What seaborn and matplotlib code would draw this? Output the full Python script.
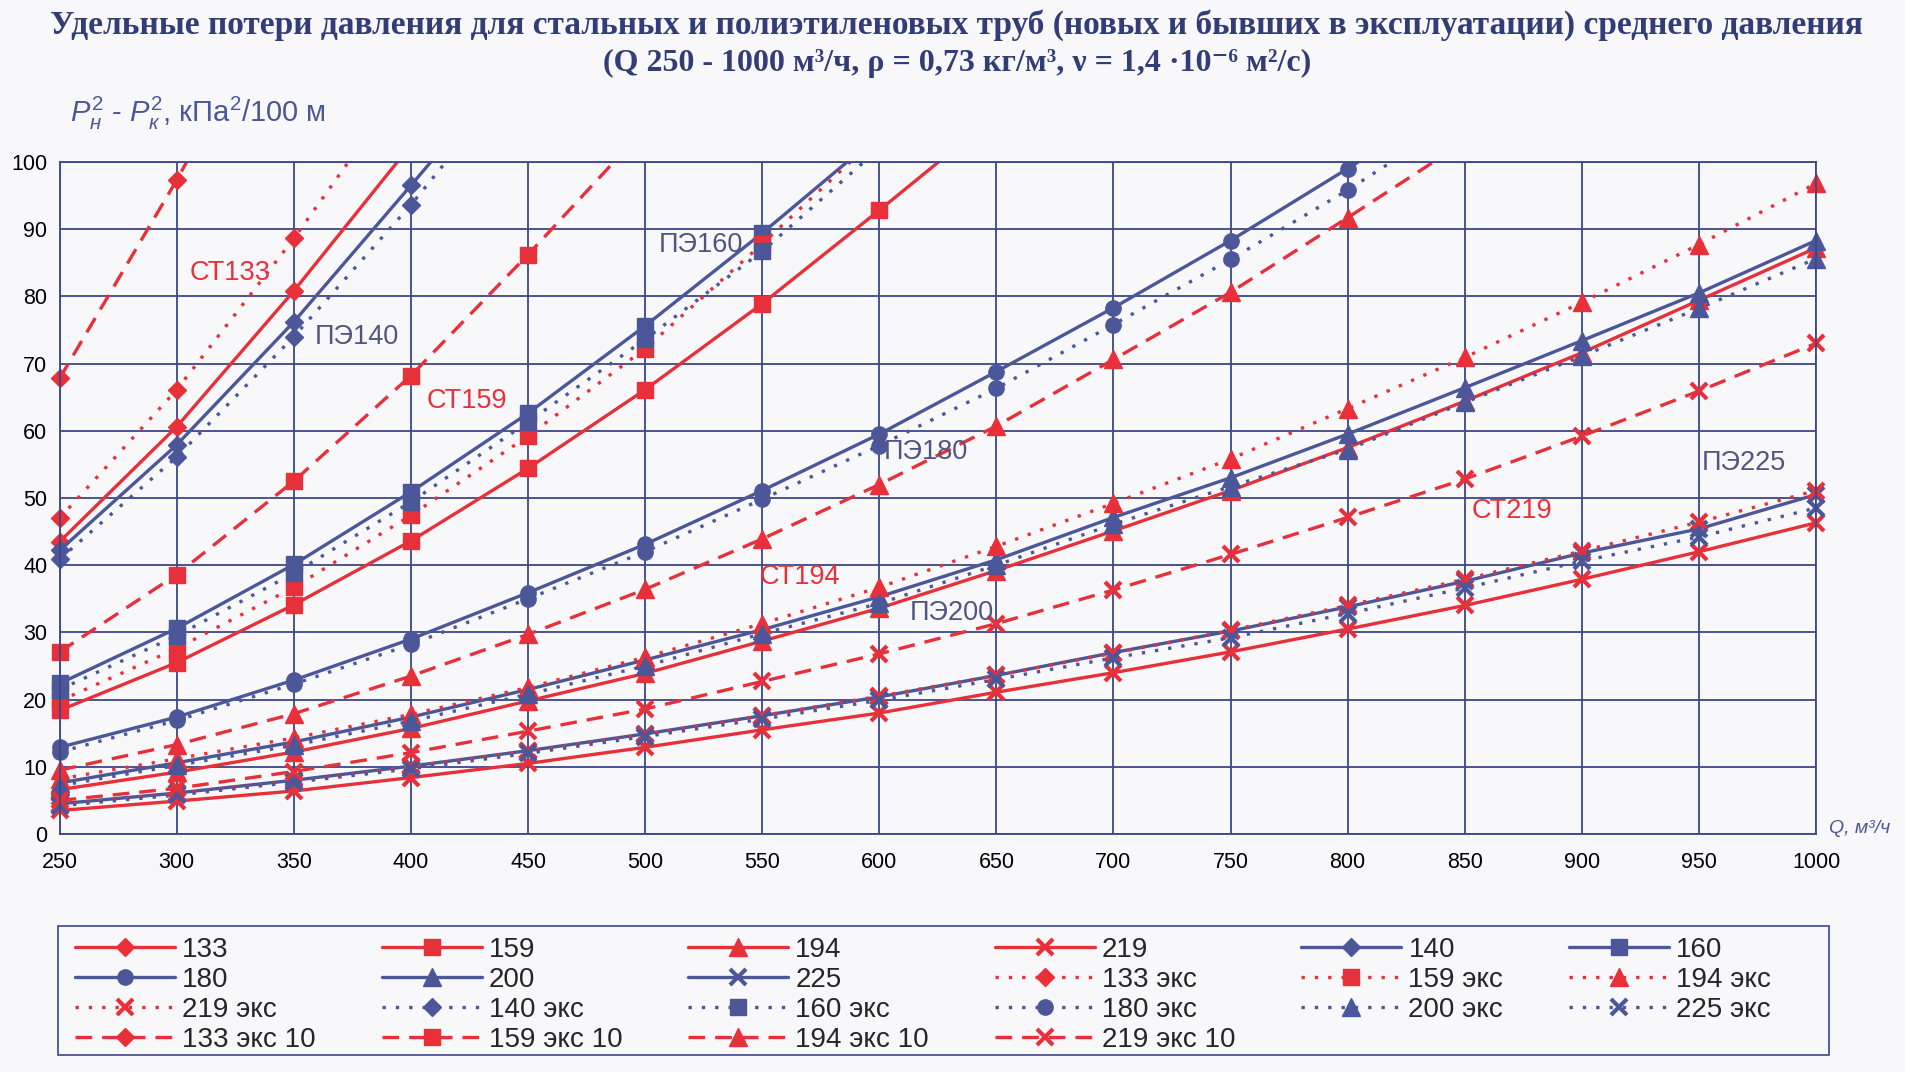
import matplotlib
matplotlib.use("Agg")
import matplotlib.pyplot as plt
from matplotlib.lines import Line2D
from matplotlib.patches import Rectangle
from matplotlib.transforms import Bbox, TransformedBbox
import seaborn as sns

# расход газа, м3/ч
Q = [250, 300, 350, 400, 450, 500, 550, 600, 650, 700, 750, 800, 850, 900, 950, 1000]

# сталь, новые
st133 = [43.5, 60.6, 80.8, 102.5]
st159 = [18.4, 25.5, 34.1, 43.6, 54.4, 66.1, 78.9, 92.8, 107]
st194 = [6.6, 9.2, 12.2, 15.7, 19.8, 23.9, 28.7, 33.6, 39.2, 45.1, 51.1, 57.5, 64.4, 71.6, 79.4, 87.2]
st219 = [3.5, 4.9, 6.4, 8.4, 10.5, 12.9, 15.5, 18.0, 21.1, 24.0, 27.1, 30.5, 34.0, 37.9, 42.0, 46.3]
# полиэтилен, новые
pe140 = [42.2, 57.9, 76.2, 96.5, 117]
pe160 = [22.4, 30.6, 40.1, 50.9, 62.6, 75.6, 89.4, 104]
pe180 = [12.9, 17.4, 22.9, 29.0, 35.9, 43.1, 51.1, 59.5, 68.8, 78.3, 88.3, 99.0, 110]
pe200 = [7.6, 10.6, 13.7, 17.4, 21.5, 25.9, 30.4, 35.3, 40.8, 47.1, 53.0, 59.5, 66.4, 73.4, 80.5, 88.3]
pe225 = [4.5, 6.1, 8.0, 10.1, 12.4, 14.9, 17.6, 20.4, 23.6, 27.0, 30.2, 33.8, 37.6, 41.8, 45.4, 50.5]
# сталь, экс
sx133 = [47.0, 66.1, 88.6, 113]
sx159 = [19.8, 27.6, 36.7, 47.4, 59.2, 72.2, 87.8, 104]
sx194 = [8.2, 11.2, 14.3, 17.8, 21.8, 26.3, 31.3, 36.7, 42.8, 49.2, 55.8, 63.3, 70.9, 79.1, 87.7, 96.8]
sx219 = [4.3, 6.0, 7.8, 10.0, 12.3, 14.8, 17.6, 20.5, 23.6, 26.9, 30.3, 34.0, 37.9, 42.1, 46.4, 51.1]
# полиэтилен, экс
px140 = [40.9, 56.1, 74.0, 93.6, 115]
px160 = [21.5, 29.5, 38.8, 49.4, 61.3, 73.6, 86.7, 102]
px180 = [12.2, 16.9, 22.3, 28.2, 35.0, 42.0, 49.8, 57.8, 66.3, 75.8, 85.5, 95.8, 107]
px200 = [7.2, 10.2, 13.2, 16.8, 20.8, 25.0, 29.8, 34.3, 40.0, 46.1, 51.7, 57.2, 64.2, 71.1, 78.2, 85.6]
px225 = [4.2, 5.8, 7.7, 9.7, 12.0, 14.5, 17.1, 19.9, 23.0, 26.2, 29.2, 32.8, 36.6, 40.6, 44.2, 48.5]
# сталь, экс 10
s10_133 = [67.8, 97.3, 129]
s10_159 = [27.1, 38.6, 52.5, 68.2, 86.2, 105]
s10_194 = [9.5, 13.3, 17.9, 23.5, 29.7, 36.4, 43.9, 52.0, 60.7, 70.6, 80.6, 91.7, 103]
s10_219 = [5.0, 6.8, 9.3, 12.1, 15.3, 18.6, 22.7, 26.8, 31.3, 36.3, 41.6, 47.1, 52.8, 59.2, 65.9, 73.0]

ann_text = ["СТ133", "ПЭ140", "СТ159", "ПЭ160", "ПЭ180", "СТ194", "ПЭ200", "ПЭ225", "СТ219"]
ann_x = [323, 377, 424, 524, 620, 566, 631, 969, 870]
ann_y = [83.4, 74.0, 64.4, 87.7, 56.8, 38.2, 32.9, 55.2, 48.1]

RED = "#e8303a"
BLUE = "#4b5799"
NAVY = "#3b4788"
LBL = "#50567f"
TITLE = "#323d78"
BG = "#f8f8fa"

SOLID = "-"
DOT = (0, (1, 3))
DASH = (0, (5, 3))

series = [
    ("133", st133, RED, "D", SOLID), ("159", st159, RED, "s", SOLID),
    ("194", st194, RED, "^", SOLID), ("219", st219, RED, "x", SOLID),
    ("140", pe140, BLUE, "D", SOLID), ("160", pe160, BLUE, "s", SOLID),
    ("180", pe180, BLUE, "o", SOLID), ("200", pe200, BLUE, "^", SOLID),
    ("225", pe225, BLUE, "x", SOLID),
    ("133 экс", sx133, RED, "D", DOT), ("159 экс", sx159, RED, "s", DOT),
    ("194 экс", sx194, RED, "^", DOT), ("219 экс", sx219, RED, "x", DOT),
    ("140 экс", px140, BLUE, "D", DOT), ("160 экс", px160, BLUE, "s", DOT),
    ("180 экс", px180, BLUE, "o", DOT), ("200 экс", px200, BLUE, "^", DOT),
    ("225 экс", px225, BLUE, "x", DOT),
    ("133 экс 10", s10_133, RED, "D", DASH), ("159 экс 10", s10_159, RED, "s", DASH),
    ("194 экс 10", s10_194, RED, "^", DASH), ("219 экс 10", s10_219, RED, "x", DASH),
]
msize = {"D": 9.5, "s": 11, "o": 11, "^": 12.5, "x": 11}

sns.set_theme(style="white")
plt.rcParams["font.family"] = ["Liberation Sans", "DejaVu Sans"]
plt.rcParams["mathtext.fontset"] = "custom"
plt.rcParams["mathtext.rm"] = "Liberation Sans"
plt.rcParams["mathtext.it"] = "Liberation Sans:italic"

fig = plt.figure(figsize=(19.06, 10.72), dpi=100, facecolor=BG)
ax = fig.add_axes([0.0313, 0.222, 0.9215, 0.627])
ax.set_facecolor(BG)

for name, vals, col, mk, ls in series:
    sns.lineplot(x=Q[:len(vals)], y=vals, ax=ax, color=col, marker=mk, linestyle=ls,
                 linewidth=2.4, markersize=msize[mk], markeredgecolor=col,
                 markerfacecolor=col, markeredgewidth=3 if mk == "x" else 1,
                 label=name, legend=False, errorbar=None)

# линии обрезаем по 100, маркеры на краях по Q не обрезаем
clip = TransformedBbox(Bbox([[230, -5], [1020, 100]]), ax.transData)
for ln in ax.lines:
    ln.set_clip_box(clip)

ax.set_xlim(250, 1000)
ax.set_ylim(0, 100)
ax.set_xticks(range(250, 1001, 50))
ax.set_yticks(range(0, 101, 10))
ax.set_xlabel("")
ax.set_ylabel("")
ax.grid(True, color=NAVY, linewidth=1.3)
for sp in ax.spines.values():
    sp.set_color(NAVY)
    sp.set_linewidth(1.3)
ax.tick_params(axis="both", labelsize=15.5, colors=NAVY, labelcolor="black", length=5, width=1.2)
ax.tick_params(axis="x", pad=8)
ax.tick_params(axis="y", pad=4)

for t, x, y in zip(ann_text, ann_x, ann_y):
    ax.text(x, y, t, ha="center", va="center", fontsize=19.5,
            color=RED if t.startswith("СТ") else LBL)

fig.text(0.502, 0.977,
         "Удельные потери давления для стальных и полиэтиленовых труб (новых и бывших в эксплуатации) среднего давления",
         ha="center", va="center", fontsize=24, fontweight="bold", color=TITLE,
         family=["Liberation Serif", "DejaVu Serif"])
fig.text(0.502, 0.941, "(Q 250 - 1000 м³/ч, ρ = 0,73 кг/м³, ν = 1,4 ·10⁻⁶ м²/с)",
         ha="center", va="center", fontsize=23, fontweight="bold", color=TITLE,
         family=["Liberation Serif", "DejaVu Serif"])
fig.text(0.0367, 0.894, r"$P_{н}^{2}$ - $P_{к}^{2}$, кПа$^{2}$/100 м",
         ha="left", va="center", fontsize=21, color=BLUE)
fig.text(0.9596, 0.2276, "Q, м³/ч", ha="left", va="center", fontsize=14,
         fontstyle="italic", color=BLUE)

# легенда: 6 колонок, заполнение по строкам
handles, labels = ax.get_legend_handles_labels()
by_label = dict(zip(labels, handles))
rows = [
    ["133", "159", "194", "219", "140", "160"],
    ["180", "200", "225", "133 экс", "159 экс", "194 экс"],
    ["219 экс", "140 экс", "160 экс", "180 экс", "200 экс", "225 экс"],
    ["133 экс 10", "159 экс 10", "194 экс 10", "219 экс 10"],
]
blank = Line2D([], [], color="none")
hl, ll = [], []
for c in range(6):
    for r in range(4):
        if c < len(rows[r]):
            hl.append(by_label[rows[r][c]])
            ll.append(rows[r][c])
        else:
            hl.append(blank)
            ll.append("")
fig.patches.append(Rectangle((0.0304, 0.0159), 0.929, 0.1203, transform=fig.transFigure,
                             facecolor=BG, edgecolor=NAVY, linewidth=1.2, zorder=0))
leg = fig.legend(hl, ll, ncol=6, loc="upper left",
                 bbox_to_anchor=(0.0393, 0.016, 0.89, 0.11), mode="expand",
                 borderaxespad=0, borderpad=0, fontsize=20, handlelength=3.6,
                 handletextpad=0.25, labelspacing=0.14, frameon=False)

fig.savefig("out.png", dpi=100, facecolor=BG)
